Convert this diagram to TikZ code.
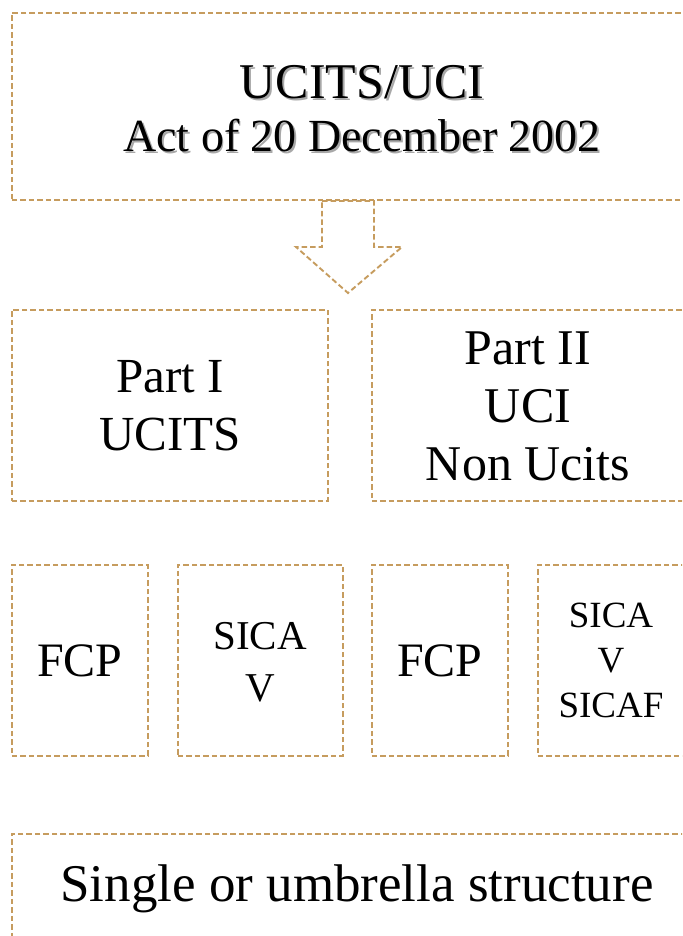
\documentclass[tikz,border=0pt]{standalone}
\usepackage{fontspec}
\setmainfont{Liberation Serif}
\definecolor{tan}{HTML}{C69C5E}
\definecolor{shade}{HTML}{A8A8A8}
\newcommand\shtext[1]{\makebox[0pt][l]{\hspace{2pt}\raisebox{-2pt}{\textcolor{shade}{#1}}}#1}
\begin{document}
\begin{tikzpicture}[x=1pt,y=-1pt,
  dbox/.style={draw=tan,line width=1.9pt,dash pattern=on 5.5pt off 3pt,inner sep=0pt,align=center,anchor=north west},
  txt/.style={inner sep=0pt,align=center},
  big/.style={font=\fontsize{49}{58}\selectfont}]
\useasboundingbox (0,0) rectangle (682,936);
\clip (0,0) rectangle (682,936);
\node[dbox,minimum width=700pt,minimum height=187pt] (top) at (11,12) {};
\node[txt] at (top.center |- 0,83) (t1) {\fontsize{50}{58}\selectfont\shtext{UCITS/UCI}};
\node[txt] at (top.center |- 0,137) (t2) {\fontsize{46}{54}\selectfont\shtext{Act of 20 December 2002}};
\coordinate (a1) at (322,201);
\coordinate (a2) at (374,201);
\draw[draw=tan,line width=1.9pt,dash pattern=on 5.5pt off 3pt,line join=miter]
  (a1) -- (a2) -- (374,247) -- (402,247) -- (348,293) -- (296,247) -- (322,247) -- cycle;
\node[dbox,minimum width=316pt,minimum height=191pt] (p1) at (11,309) {};
\node[txt,big] at (p1.center) {Part I\\UCITS};
\node[dbox,minimum width=340pt,minimum height=191pt] (p2) at (371,309) {};
\node[txt,font=\fontsize{50}{58}\selectfont] at (528,406) {Part II\\UCI\\Non Ucits};
\node[dbox,minimum width=136pt,minimum height=191pt] (f1) at (11,564) {};
\node[txt,font=\fontsize{48}{56}\selectfont] at (f1.center) {FCP};
\node[dbox,minimum width=165pt,minimum height=191pt] (s1) at (177,564) {};
\node[txt,font=\fontsize{41}{52}\selectfont] at (260,662) {SICA\\V};
\node[dbox,minimum width=136pt,minimum height=191pt] (f2) at (371,564) {};
\node[txt,font=\fontsize{48}{56}\selectfont] at (f2.center) {FCP};
\node[dbox,minimum width=170pt,minimum height=191pt] (s2) at (537,564) {};
\node[txt,font=\fontsize{37}{45}\selectfont] at (611,660) {SICA\\V\\SICAF};
\node[dbox,minimum width=700pt,minimum height=150pt] (bot) at (11,833) {};
\node[txt,font=\fontsize{53}{60}\selectfont] at (357,889) {Single or umbrella structure};
\end{tikzpicture}
\end{document}
